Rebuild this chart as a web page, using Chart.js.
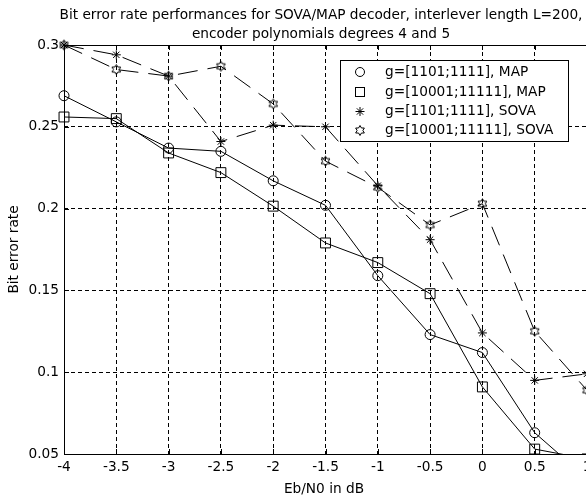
<!DOCTYPE html>
<html>
<head>
<meta charset="utf-8">
<script src="https://cdn.jsdelivr.net/npm/chart.js@4.4.0/dist/chart.umd.min.js"></script>
<style>
  html, body { margin: 0; padding: 0; background: #fff; overflow: hidden; }
  #wrap { width: 600px; height: 497px; }
</style>
</head>
<body>
<div id="wrap"><canvas id="chart" width="600" height="497"></canvas></div>
<script>
// Eb/N0 in dB
const ebn0 = [-4, -3.5, -3, -2.5, -2, -1.5, -1, -0.5, 0, 0.5, 1];

// bit error rate
const mapShort  = [0.269, 0.253, 0.237, 0.235, 0.217, 0.202, 0.159, 0.123, 0.112, 0.063, 0.035];
const mapLong   = [0.256, 0.255, 0.234, 0.222, 0.2015, 0.179, 0.167, 0.148, 0.091, 0.053, 0.047];
const sovaShort = [0.300, 0.294, 0.281, 0.241, 0.251, 0.250, 0.214, 0.181, 0.124, 0.095, 0.099];
const sovaLong  = [0.300, 0.285, 0.281, 0.287, 0.264, 0.229, 0.213, 0.190, 0.203, 0.125, 0.089];

const seriesNames = [
  "g=[1101;1111], MAP",
  "g=[10001;11111], MAP",
  "g=[1101;1111], SOVA",
  "g=[10001;11111], SOVA",
];

const titleLines = [
  "Bit error rate performances for SOVA/MAP decoder, interlever length L=200,",
  "encoder polynomials degrees 4 and 5",
];
const xLabel = "Eb/N0 in dB";
const yLabel = "Bit error rate";

const FONT = '13.7px "DejaVu Sans", sans-serif';

// matlab 'h' marker - chart.js has no hexagram so build one as an image
function hexagram(r) {
  const size = Math.ceil(r * 2 + 3);
  const c = document.createElement("canvas");
  c.width = size;
  c.height = size;
  const g = c.getContext("2d");
  drawHexagram(g, size / 2, size / 2, r);
  return c;
}

function drawHexagram(g, cx, cy, r) {
  g.beginPath();
  for (let i = 0; i < 12; i++) {
    const a = -Math.PI / 2 + (i * Math.PI) / 6;
    const rr = i % 2 === 0 ? r : r / Math.sqrt(3);
    const px = cx + rr * Math.cos(a);
    const py = cy + rr * Math.sin(a);
    if (i === 0) g.moveTo(px, py);
    else g.lineTo(px, py);
  }
  g.closePath();
  g.strokeStyle = "#000";
  g.lineWidth = 1;
  g.stroke();
}

const toPoints = (ys) => ebn0.map((x, i) => ({ x: x, y: ys[i] }));

function series(label, ys, style, radius, dash) {
  return {
    label: label,
    data: toPoints(ys),
    borderColor: "#000",
    borderWidth: 1,
    borderDash: dash,
    pointStyle: style,
    pointRadius: radius,
    pointHoverRadius: radius,
    pointBorderColor: "#000",
    pointBackgroundColor: "rgba(0,0,0,0)",
    pointBorderWidth: 1,
    fill: false,
    tension: 0,
    clip: { left: 10, top: 10, right: 20, bottom: 0 },
  };
}

// axes box, inward ticks, title, axis labels and the legend box
const decorations = {
  id: "decorations",
  afterDraw(chart) {
    const { ctx, chartArea: a, scales } = chart;
    const x = scales.x;
    const y = scales.y;
    ctx.save();
    ctx.strokeStyle = "#000";
    ctx.lineWidth = 1;
    ctx.setLineDash([]);

    ctx.strokeRect(Math.round(a.left) + 0.5, Math.round(a.top) + 0.5,
      Math.round(a.right - a.left), Math.round(a.bottom - a.top));

    const tickLen = 5;
    ctx.beginPath();
    x.ticks.forEach((t) => {
      const px = Math.round(x.getPixelForValue(t.value)) + 0.5;
      ctx.moveTo(px, a.bottom);
      ctx.lineTo(px, a.bottom - tickLen);
      ctx.moveTo(px, a.top);
      ctx.lineTo(px, a.top + tickLen);
    });
    y.ticks.forEach((t) => {
      const py = Math.round(y.getPixelForValue(t.value)) + 0.5;
      ctx.moveTo(a.left, py);
      ctx.lineTo(a.left + tickLen, py);
    });
    ctx.stroke();

    ctx.fillStyle = "#000";
    ctx.font = FONT;
    ctx.textAlign = "center";
    ctx.textBaseline = "middle";
    ctx.fillText(titleLines[0], 321, 15);
    ctx.fillText(titleLines[1], 321, 34);
    ctx.fillText(xLabel, 324, 489);

    ctx.save();
    ctx.translate(14, (a.top + a.bottom) / 2);
    ctx.rotate(-Math.PI / 2);
    ctx.fillText(yLabel, 0, 0);
    ctx.restore();

    // legend
    const box = { x: 340, y: 60, w: 228, h: 81 };
    ctx.fillStyle = "#fff";
    ctx.fillRect(box.x, box.y, box.w, box.h);
    ctx.strokeRect(box.x + 0.5, box.y + 0.5, box.w, box.h);
    const rows = [72, 92, 111.5, 130.5];
    const mx = 360;
    ctx.fillStyle = "#000";
    ctx.textAlign = "left";
    seriesNames.forEach((name, i) => {
      const my = rows[i];
      ctx.beginPath();
      if (i === 0) {
        ctx.arc(mx, my, 4.5, 0, Math.PI * 2);
        ctx.stroke();
      } else if (i === 1) {
        ctx.strokeRect(mx - 4.5, my - 4.5, 9, 9);
      } else if (i === 2) {
        const r = 4.5;
        ctx.moveTo(mx - r, my); ctx.lineTo(mx + r, my);
        ctx.moveTo(mx, my - r); ctx.lineTo(mx, my + r);
        const d = r * 0.7;
        ctx.moveTo(mx - d, my - d); ctx.lineTo(mx + d, my + d);
        ctx.moveTo(mx - d, my + d); ctx.lineTo(mx + d, my - d);
        ctx.stroke();
      } else {
        drawHexagram(ctx, mx, my, 5);
      }
      ctx.fillText(name, 385, my);
    });

    ctx.restore();
  },
};

const gridOpts = { color: "#000", lineWidth: 1, drawTicks: false };

new Chart(document.getElementById("chart"), {
  type: "line",
  data: {
    datasets: [
      series(seriesNames[0], mapShort, "circle", 5, []),
      series(seriesNames[1], mapLong, "rect", 7, []),
      series(seriesNames[2], sovaShort, "star", 4.5, [20, 10]),
      series(seriesNames[3], sovaLong, hexagram(5), 5, [20, 10]),
    ],
  },
  options: {
    responsive: false,
    animation: false,
    layout: { padding: { top: 45, left: 0, right: 13, bottom: 0 } },
    plugins: {
      legend: { display: false },
      tooltip: { enabled: false },
      title: { display: false },
    },
    scales: {
      x: {
        type: "linear",
        min: -4,
        max: 1,
        grid: gridOpts,
        border: { display: false, dash: [4, 3] },
        ticks: {
          stepSize: 0.5,
          color: "#000",
          font: { family: "DejaVu Sans", size: 13.7 },
          padding: 5,
          maxRotation: 0,
          autoSkip: false,
          callback: (v) => String(v),
        },
        afterFit: (s) => {
          s.height = 43;
          s.paddingLeft = 0;
          s.paddingRight = 0;
        },
      },
      y: {
        type: "linear",
        min: 0.05,
        max: 0.3,
        grid: gridOpts,
        border: { display: false, dash: [4, 3] },
        ticks: {
          stepSize: 0.05,
          color: "#000",
          font: { family: "DejaVu Sans", size: 13.7 },
          padding: 5,
          callback: (v) => String(+v.toFixed(2)),
        },
        afterFit: (s) => {
          s.width = 64;
          s.paddingTop = 0;
          s.paddingBottom = 0;
        },
      },
    },
  },
  plugins: [decorations],
});
</script>
</body>
</html>
